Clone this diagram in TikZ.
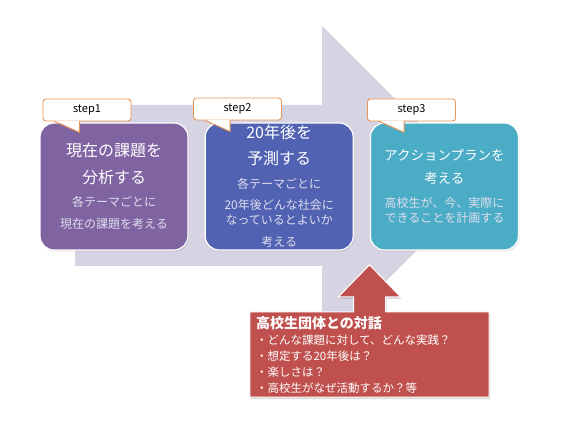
\documentclass[tikz,border=0pt]{standalone}
\usepackage{fontspec}
\setmainfont{Noto Sans CJK JP}
\usetikzlibrary{positioning,calc,backgrounds,shadows}
\definecolor{flowgrey}{RGB}{214,211,226}
\definecolor{steppurple}{RGB}{128,100,162}
\definecolor{stepblue}{RGB}{82,98,178}
\definecolor{stepaqua}{RGB}{75,172,198}
\definecolor{talkred}{RGB}{192,80,77}
\definecolor{tagorange}{RGB}{232,150,85}
\definecolor{notetext}{RGB}{222,222,238}
\newcommand{\steptitle}[1]{{\fontsize{16}{22}\selectfont\color{white}#1}}
\newcommand{\stepsmall}[1]{{\fontsize{13.5}{22}\selectfont\color{white}#1}}
\newcommand{\stepnote}[1]{{\fontsize{12}{22}\selectfont\color{notetext}#1}}

\begin{document}
\begin{tikzpicture}[x=1pt, y=-1pt,
  stepbox/.style={draw=white, line width=1.2pt, rounded corners=14pt, minimum width=148pt,
    minimum height=127pt, align=center, inner sep=2pt, font=\fontsize{12}{22}\selectfont,
    drop shadow={opacity=0.25, shadow xshift=1pt, shadow yshift=-1.5pt}},
  tag/.style={draw=tagorange, fill=white, line width=0.9pt, rounded corners=3pt,
    minimum width=88pt, minimum height=22pt, inner sep=0pt, font=\fontsize{11}{13}\selectfont},
  talkbox/.style={text=white, align=left, text width=227pt, minimum width=239pt,
    minimum height=85pt, inner xsep=6pt, font=\fontsize{11.5}{16}\selectfont},
]
  \useasboundingbox (0,0) rectangle (580,435);

  % big flow arrow behind the steps
  \begin{scope}[on background layer]
    \fill[flowgrey] (75,105) -- (322,105) -- (322,26) -- (481.5,185.5) -- (322,345)
      -- (322,266) -- (75,266) -- cycle;
  \end{scope}

  % steps
  \node[stepbox, fill=steppurple] (s1) at (114,186.5)
    {\steptitle{現在の課題を}\\[5pt]\steptitle{分析する}\\[1pt]\stepnote{各テーマごとに}\\
     \stepnote{現在の課題を考える}};
  \node[stepbox, fill=stepblue, right=16pt of s1] (s2)
    {\steptitle{20年後を}\\[4pt]\steptitle{予測する}\\[2pt]\stepnote{各テーマごとに}\\[-1pt]
     \stepnote{20年後どんな社会に}\\[-7pt]\stepnote{なっているとよいか}\\\stepnote{考える}};
  \node[stepbox, fill=stepaqua, right=16pt of s2] (s3)
    {\stepsmall{アクションプランを}\\[1pt]\stepsmall{考える}\\[2pt]\stepnote{高校生が、今、実際に}\\[-7pt]
     \stepnote{できることを計画する}};

  % step tags
  \node[tag] (t1) at (87,110) {step1};
  \node[tag] (t2) at (237.5,109) {step2};
  \node[tag] (t3) at (411.5,110) {step3};
  \foreach \t in {t1,t2,t3} {
    \fill[white] ($(\t.south west)+(12.5,-0.8)$) -- ($(\t.south west)+(37,11)$)
      -- ($(\t.south west)+(36.6,-0.8)$) -- cycle;
    \draw[tagorange, line width=0.9pt, line join=round] ($(\t.south west)+(12,0)$)
      -- ($(\t.south west)+(37,11)$) -- ($(\t.south west)+(37,0)$);
  }

  % dialogue box with up arrow
  \node[talkbox] (talk) at (369.5,354.5)
    {\fontsize{14}{16}\selectfont\bfseries 高校生団体との対話\\\mdseries\fontsize{11.5}{16}\selectfont
     ・どんな課題に対して、どんな実践？\\・想定する20年後は？\\・楽しさは？\\・高校生がなぜ活動するか？等};
  \begin{scope}[on background layer]
    \path[fill=talkred, draw=white, line width=1pt,
      drop shadow={opacity=0.3, shadow xshift=1pt, shadow yshift=-2pt}]
      (talk.south west) -- (talk.north west) -- ($(talk.north)+(-16,0)$)
      -- ($(talk.north)+(-16,-15)$) -- ($(talk.north)+(-31,-15)$) -- ($(talk.north)+(0,-47)$)
      -- ($(talk.north)+(31,-15)$) -- ($(talk.north)+(16,-15)$) -- ($(talk.north)+(16,0)$)
      -- (talk.north east) -- (talk.south east) -- cycle;
  \end{scope}
\end{tikzpicture}
\end{document}
